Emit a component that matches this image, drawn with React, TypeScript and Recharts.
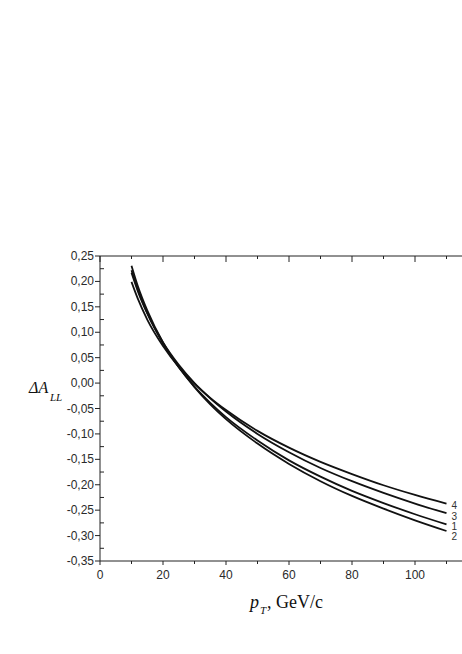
import React from 'react';
import { LineChart, Line, XAxis, YAxis } from 'recharts';

// transverse momentum, GeV/c
const pt = [10, 12, 15, 20, 25, 30, 35, 40, 50, 60, 70, 80, 90, 100, 110];

// asymmetry curves
const curve1 = [0.222, 0.184, 0.138, 0.078, 0.031, -0.007, -0.039, -0.067, -0.113, -0.152, -0.184, -0.212, -0.236, -0.258, -0.278];
const curve2 = [0.231, 0.191, 0.143, 0.080, 0.032, -0.008, -0.042, -0.071, -0.119, -0.159, -0.193, -0.222, -0.247, -0.270, -0.291];
const curve3 = [0.217, 0.181, 0.137, 0.080, 0.036, 0.000, -0.030, -0.056, -0.100, -0.136, -0.167, -0.193, -0.216, -0.237, -0.256];
const curve4 = [0.199, 0.166, 0.125, 0.073, 0.032, -0.001, -0.029, -0.053, -0.094, -0.127, -0.155, -0.179, -0.201, -0.220, -0.237];

const xMajor = [0, 20, 40, 60, 80, 100];
const xMinor = [10, 30, 50, 70, 90, 110];
const yMajor = [-0.35, -0.3, -0.25, -0.2, -0.15, -0.1, -0.05, 0, 0.05, 0.1, 0.15, 0.2, 0.25];
const yMinor = [-0.325, -0.275, -0.225, -0.175, -0.125, -0.075, -0.025, 0.025, 0.075, 0.125, 0.175, 0.225];

const series = [
  { key: 'c1', name: '1', dy: 6 },
  { key: 'c2', name: '2', dy: 9 },
  { key: 'c3', name: '3', dy: 7 },
  { key: 'c4', name: '4', dy: 5.5 },
];

const data = pt.map((x, i) => ({ x, c1: curve1[i], c2: curve2[i], c3: curve3[i], c4: curve4[i] }));

const xTicks = [...xMajor, ...xMinor].sort((a, b) => a - b);
const yTicks = [...yMajor, ...yMinor].sort((a, b) => a - b);

const isMajor = (list: number[], v: number) => list.some((m) => Math.abs(m - v) < 1e-6);
const fmtY = (v: number) => (Math.abs(v) < 1e-9 ? '0,00' : v.toFixed(2).replace('.', ','));

const tickFont = { fontFamily: '"Liberation Sans", Arial, sans-serif', fontSize: 12, fill: '#2a2a2a' };

function BottomTick(props: any) {
  const { x, y, payload } = props;
  const major = isMajor(xMajor, payload.value);
  return (
    <g>
      <line x1={x} x2={x} y1={y} y2={y + (major ? 4 : 3)} stroke="#222" strokeWidth={1} />
      {major && (
        <text x={x} y={y + 18} textAnchor="middle" {...tickFont}>
          {payload.value}
        </text>
      )}
    </g>
  );
}

function TopTick(props: any) {
  const { x, y, payload } = props;
  const major = isMajor(xMajor, payload.value);
  return <line x1={x} x2={x} y1={y} y2={y + (major ? 6 : 3)} stroke="#222" strokeWidth={1} />;
}

function LeftTick(props: any) {
  const { x, y, payload } = props;
  const major = isMajor(yMajor, payload.value);
  if (!major) return <line x1={x} x2={x + 4} y1={y} y2={y} stroke="#222" strokeWidth={1} />;
  return (
    <g>
      <line x1={x - 5} x2={x} y1={y} y2={y} stroke="#222" strokeWidth={1} />
      <text x={x - 6} y={y + 4} textAnchor="end" {...tickFont}>
        {fmtY(payload.value)}
      </text>
    </g>
  );
}

function endLabel(name: string, dy: number) {
  return (props: any) => {
    const { x, y, index } = props;
    if (index !== pt.length - 1) return null;
    return (
      <text x={x + 5} y={y + dy} fontFamily='"Liberation Sans", Arial, sans-serif' fontSize={10} fill="#333">
        {name}
      </text>
    );
  };
}

export default function App() {
  return (
    <div style={{ position: 'absolute', left: 0, top: 0, width: 462, height: 654, overflow: 'hidden', background: '#fff' }}>
      <LineChart width={490} height={654} data={data} margin={{ top: 246, right: 12, left: 40, bottom: 63 }}>
        <XAxis
          dataKey="x"
          type="number"
          domain={[0, 120]}
          ticks={xTicks}
          interval={0}
          allowDataOverflow
          height={30}
          stroke="#222"
          tickSize={0}
          tickMargin={0}
          tick={<BottomTick />}
        />
        <XAxis
          xAxisId="top"
          orientation="top"
          dataKey="x"
          type="number"
          domain={[0, 120]}
          ticks={xTicks}
          interval={0}
          allowDataOverflow
          height={10}
          stroke="#222"
          tickSize={0}
          tickMargin={0}
          tick={<TopTick />}
        />
        <YAxis
          type="number"
          domain={[-0.35, 0.25]}
          ticks={yTicks}
          interval={0}
          allowDataOverflow
          width={60}
          stroke="#222"
          tickSize={0}
          tickMargin={0}
          tick={<LeftTick />}
        />
        {series.map((s) => (
          <Line
            key={s.key}
            type="monotone"
            dataKey={s.key}
            stroke="#111"
            strokeWidth={1.8}
            dot={false}
            label={endLabel(s.name, s.dy)}
            isAnimationActive={false}
          />
        ))}
      </LineChart>
      <svg width={462} height={654} style={{ position: 'absolute', left: 0, top: 0, pointerEvents: 'none' }}>
        <text x={29} y={393} fontFamily='"Liberation Serif", serif' fontStyle="italic" fontSize={16} fill="#111">
          ΔA
        </text>
        <text x={50} y={401} fontFamily='"Liberation Serif", serif' fontStyle="italic" fontSize={11} fill="#111">
          LL
        </text>
        <text x={250} y={608} fontFamily='"Liberation Serif", serif' fontStyle="italic" fontSize={18} fill="#111">
          p
        </text>
        <text x={260} y={614} fontFamily='"Liberation Serif", serif' fontStyle="italic" fontSize={11} fill="#111">
          T
        </text>
        <text x={267} y={608} fontFamily='"Liberation Serif", serif' fontSize={18} fill="#111">
          , GeV/c
        </text>
      </svg>
    </div>
  );
}
